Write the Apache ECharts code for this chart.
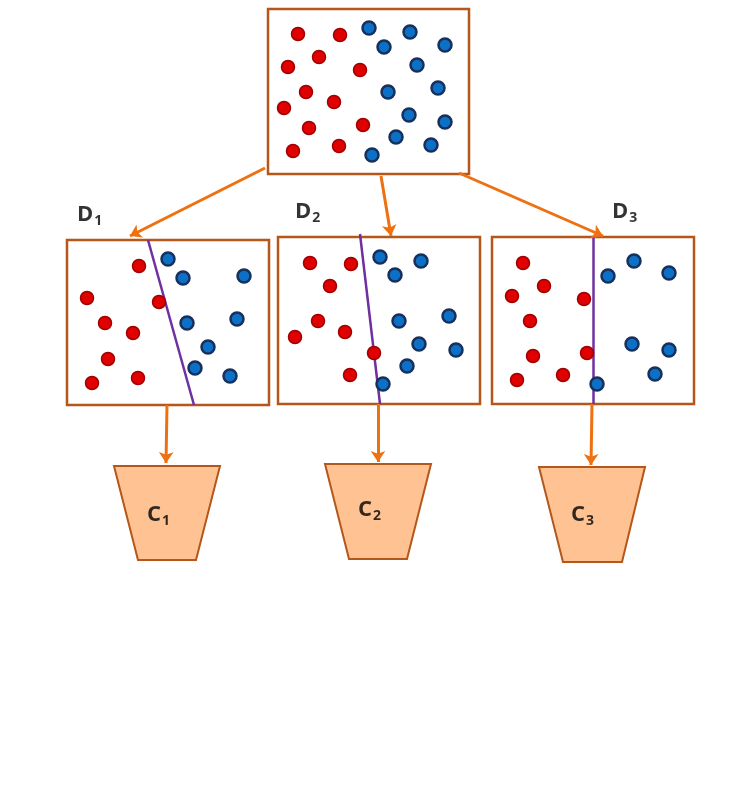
<!DOCTYPE html>
<html>
<head>
<meta charset="utf-8">
<script src="https://cdn.jsdelivr.net/npm/echarts@6/dist/echarts.min.js"></script>
<style>html,body{margin:0;background:#fff}#main{width:743px;height:786px}</style>
</head>
<body>
<div id="main"></div>
<script>
// pixel-space data: [x, y]
var redPts = [
    [298,34],[340,35],[319,57],[288,67],[360,70],[306,92],[334,102],[284,108],[309,128],[363,125],[293,151],[339,146],
    [139,266],[87,298],[159,302],[105,323],[133,333],[108,359],[92,383],[138,378],
    [310,263],[351,264],[330,286],[318,321],[295,337],[345,332],[374,353],[350,375],
    [523,263],[544,286],[512,296],[584,299],[530,321],[533,356],[587,353],[517,380],[563,375]
];
var bluePts = [
    [369,28],[410,32],[384,47],[445,45],[417,65],[438,88],[388,92],[409,115],[445,122],[396,137],[431,145],[372,155],
    [168,259],[183,278],[244,276],[187,323],[237,319],[208,347],[195,368],[230,376],
    [380,257],[421,261],[395,275],[399,321],[449,316],[419,344],[456,350],[407,366],[383,384],
    [608,276],[634,261],[669,273],[632,344],[669,350],[655,374],[597,384]
];
// boxes: [x1, y1, x2, y2]
var boxes = [[268,9,469,174],[67,240,269,405],[278,237,480,404],[492,237,694,404]];
// split lines
var splits = [[[148,240],[194,405]],[[360,234],[380,404]],[[593,237],[593,404]]];
// arrows
var arrows = [
    [[265,168],[130,236]],[[381,176],[391,236]],[[459,173],[603,236]],
    [[167,405],[166,463]],[[378,404],[378,462]],[[592,404],[591,465]]
];
// trapezoids: [topLeft, topRight, bottomLeft, bottomRight, yTop, yBottom]
var traps = [[114,220,138,196,466,560],[325,431,349,407,464,559],[539,645,563,622,467,562]];
var dLabels = [[77,215,'1'],[295,212,'2'],[612,212,'3']];
var cLabels = [[167,515,'1'],[378,510,'2'],[591,515,'3']];

var myChart = echarts.init(document.getElementById('main'));

function subLabel(p) {
    return {
        value: [p[0], p[1]],
        label: {formatter: (p[3] || '') + '{s|' + p[2] + '}'}
    };
}

var option = {
    animation: false,
    grid: {left: 0, right: 0, top: 0, bottom: 0},
    xAxis: {type: 'value', min: 0, max: 743, show: false},
    yAxis: {type: 'value', min: 0, max: 786, inverse: true, show: false},
    series: [
        {
            type: 'custom',
            data: boxes,
            renderItem: function (params, api) {
                var a = api.coord([api.value(0), api.value(1)]);
                var b = api.coord([api.value(2), api.value(3)]);
                return {type: 'rect', shape: {x: a[0], y: a[1], width: b[0] - a[0], height: b[1] - a[1]},
                    style: {fill: '#fff', stroke: '#B5561B', lineWidth: 2.5}};
            }
        },
        {
            type: 'custom',
            data: traps,
            renderItem: function (params, api) {
                var pts = [
                    api.coord([api.value(0), api.value(4)]),
                    api.coord([api.value(1), api.value(4)]),
                    api.coord([api.value(3), api.value(5)]),
                    api.coord([api.value(2), api.value(5)])
                ];
                return {type: 'polygon', shape: {points: pts},
                    style: {fill: '#FFC393', stroke: '#B5561B', lineWidth: 2}};
            }
        },
        {
            type: 'lines',
            coordinateSystem: 'cartesian2d',
            data: splits.map(function (s) { return {coords: s}; }),
            lineStyle: {color: '#7030A0', width: 2.5, opacity: 1},
            z: 3
        },
        {
            type: 'lines',
            coordinateSystem: 'cartesian2d',
            symbol: ['none', 'arrow'],
            symbolSize: 11,
            data: arrows.map(function (s) { return {coords: s}; }),
            lineStyle: {color: '#EE7011', width: 3, opacity: 1},
            z: 4
        },
        {
            type: 'scatter',
            data: redPts,
            symbolSize: 13,
            itemStyle: {color: '#E00000', borderColor: '#A00000', borderWidth: 1.5, opacity: 1},
            z: 5
        },
        {
            type: 'scatter',
            data: bluePts,
            symbolSize: 13,
            itemStyle: {color: '#0B70C6', borderColor: '#17305C', borderWidth: 2.5, opacity: 1},
            z: 5
        },
        {
            type: 'scatter',
            symbolSize: 0,
            data: dLabels.map(function (p) { return subLabel([p[0], p[1], p[2], 'D']); })
                .concat(cLabels.map(function (p) { return subLabel([p[0] - 20, p[1], p[2], 'C']); })),
            label: {
                show: true, position: 'right', distance: 0,
                color: '#000', fontFamily: 'Open Sans', fontWeight: 'bold', fontSize: 22,
                rich: {s: {fontFamily: 'Open Sans', fontWeight: 'bold', fontSize: 14, color: '#000', padding: [12, 0, 0, 1]}}
            },
            z: 6
        }
    ]
};
myChart.setOption(option, true);
window.onresize = myChart.resize;
</script>
</body>
</html>
